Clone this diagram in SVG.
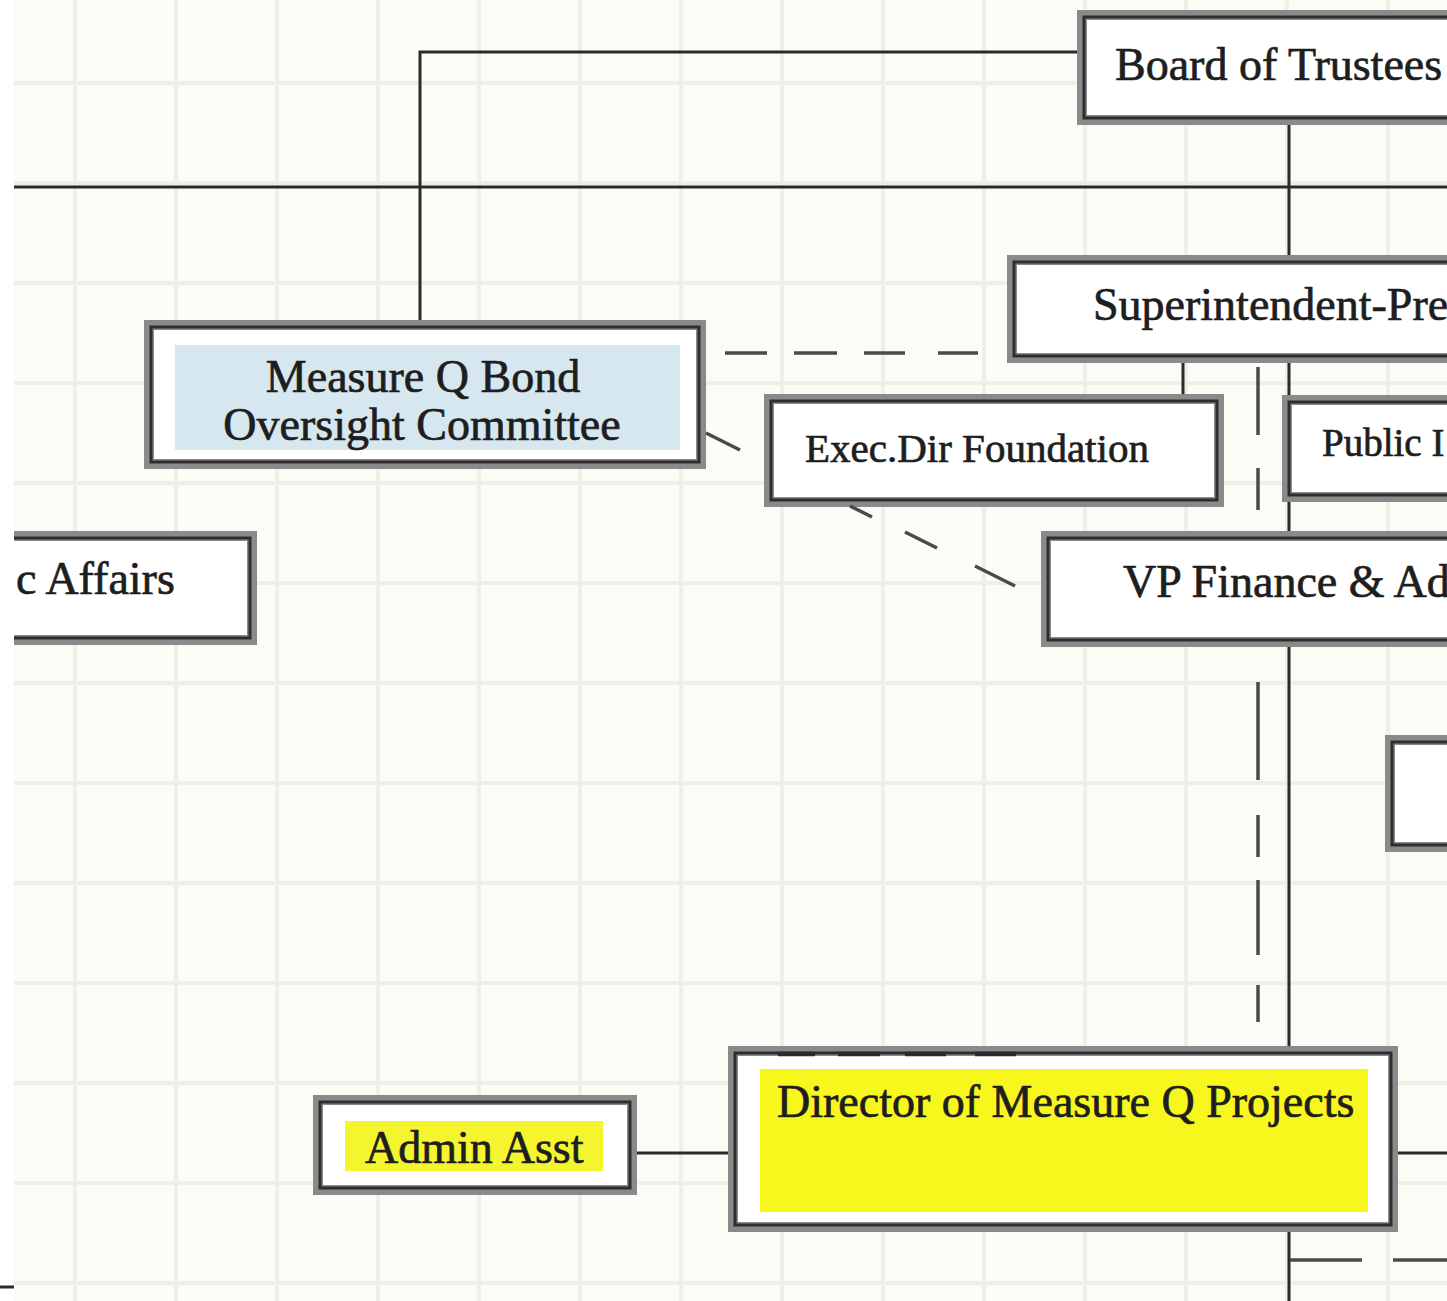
<svg xmlns="http://www.w3.org/2000/svg" width="1447" height="1301" viewBox="0 0 1447 1301">
<style>
.frame{fill:#ffffff;stroke:#8a8a8a;stroke-width:10}
.edge{fill:none;stroke:#2e2e2e;stroke-width:3}
.lbl{font-family:"Liberation Serif","Times New Roman",serif;font-size:46px;fill:#1e1e1e;stroke:#1e1e1e;stroke-width:0.7}
.solid{fill:none;stroke:#2a2a28;stroke-width:3}
.dash{fill:none;stroke:#4a4a48;stroke-width:3.5}
.dashdk{fill:none;stroke:#2a2a2a;stroke-width:4.5}
.grid{fill:none;stroke:#efefe8;stroke-width:4}
</style>
<rect x="0" y="0" width="1447" height="1301" fill="#fcfcf6"/>
<path class="grid" d="M75 0V1301M176 0V1301M277 0V1301M378 0V1301M479 0V1301M580 0V1301M681 0V1301M782 0V1301M883 0V1301M984 0V1301M1085 0V1301M1186 0V1301M1287 0V1301M1388 0V1301M0 83H1447M0 183H1447M0 283H1447M0 383H1447M0 483H1447M0 583H1447M0 683H1447M0 783H1447M0 883H1447M0 983H1447M0 1083H1447M0 1183H1447M0 1283H1447"/>

<g id="board">
<rect class="frame" x="1082" y="15" width="400" height="105"/>
<rect class="edge" x="1084" y="17" width="396" height="101"/>
<text class="lbl" x="1115" y="80">Board of Trustees</text>
</g>
<g id="superintendent">
<rect class="frame" x="1012" y="260" width="460" height="98"/>
<rect class="edge" x="1014" y="262" width="456" height="94"/>
<text class="lbl" x="1093" y="320">Superintendent-Pre</text>
</g>
<g id="measureq">
<rect class="frame" x="149" y="325" width="552" height="139"/>
<rect class="edge" x="151" y="327" width="548" height="135"/>
<rect x="175" y="345" width="505" height="105" fill="#d7e7ef"/>
<text class="lbl" x="423" y="392" text-anchor="middle">Measure Q Bond</text>
<text class="lbl" x="422" y="440" text-anchor="middle">Oversight Committee</text>
</g>
<g id="execdir">
<rect class="frame" x="769" y="399" width="450" height="103"/>
<rect class="edge" x="771" y="401" width="446" height="99"/>
<text class="lbl" x="805" y="462" style="font-size:41px">Exec.Dir Foundation</text>
</g>
<g id="public">
<rect class="frame" x="1287" y="400" width="200" height="97"/>
<rect class="edge" x="1289" y="402" width="196" height="93"/>
<text class="lbl" x="1322" y="456" style="font-size:39px">Public I</text>
</g>
<g id="vpfinance">
<rect class="frame" x="1046" y="536" width="420" height="106"/>
<rect class="edge" x="1048" y="538" width="416" height="102"/>
<text class="lbl" x="1123" y="597">VP Finance &amp; Ad</text>
</g>
<g id="academic">
<rect class="frame" x="-95" y="536" width="347" height="104"/>
<rect class="edge" x="-93" y="538" width="343" height="100"/>
<text class="lbl" x="16" y="594">c Affairs</text>
</g>
<g id="rightbox">
<rect class="frame" x="1390" y="740" width="100" height="107"/>
<rect class="edge" x="1392" y="742" width="96" height="103"/>
</g>
<g id="admin">
<rect class="frame" x="318" y="1100" width="314" height="90"/>
<rect class="edge" x="320" y="1102" width="310" height="86"/>
<rect x="345" y="1121" width="258" height="50" fill="#f4f52e"/>
<text class="lbl" x="365" y="1163">Admin Asst</text>
</g>
<g id="director">
<rect class="frame" x="733" y="1051" width="660" height="176"/>
<rect class="edge" x="735" y="1053" width="656" height="172"/>
<rect x="760" y="1069" width="608" height="143" fill="#f7f71e"/>
<text class="lbl" x="777" y="1117">Director of Measure Q Projects</text>
</g>

<g id="connectors">
<path class="solid" d="M1077 52H420V320"/>
<path class="solid" d="M14 187H1447"/>
<path class="solid" d="M1289 125V255M1289 363V395M1289 502V531M1289 647V1046M1289 1232V1301"/>
<path class="solid" d="M1183 363V394"/>
<path class="solid" d="M637 1153H728M1398 1153H1447"/>
<path class="dash" d="M725 353H767M794 353H837M864 353H905M938 353H978"/>
<path class="dash" d="M706 433L740 450M850 506L872 517M905 532L937 548M975 566L1015 586"/>
<path class="dash" d="M1258 367V435M1258 468V510M1258 682V780M1258 815V857M1258 880V955M1258 985V1022"/>
<path class="dashdk" d="M778 1054H815M838 1054H880M905 1054H946M975 1054H1016"/>
<path class="dash" d="M1290 1260H1362M1393 1260H1447"/>
</g>
<rect x="0" y="0" width="14" height="1301" fill="#ffffff"/>
<path class="solid" d="M0 1287H14"/>
</svg>
